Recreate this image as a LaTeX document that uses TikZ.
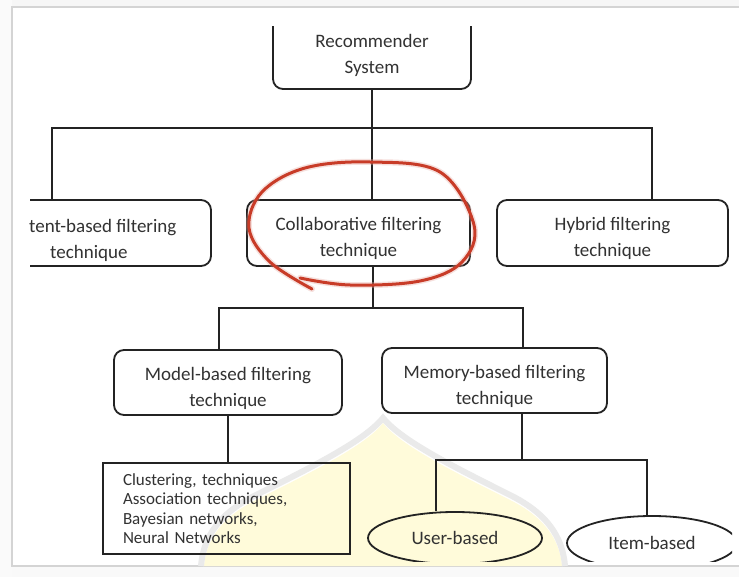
\documentclass[tikz,border=0pt]{standalone}
\usepackage{fontspec}
\setmainfont{Carlito}
\usetikzlibrary{shapes.geometric,calc}
\definecolor{ink}{RGB}{35,35,35}
\definecolor{txt}{RGB}{50,50,50}
\definecolor{redpen}{RGB}{200,60,40}
\definecolor{wmyellow}{RGB}{255,251,218}
\definecolor{wmgray}{RGB}{234,234,234}
\definecolor{framegray}{RGB}{212,212,212}
\newcommand\txtdrop{\rule{0pt}{25pt}}
\begin{document}
\begin{tikzpicture}[x=1pt,y=-1pt,
  rbox/.style={draw=ink,line width=1.8pt,rounded corners=10pt,align=center,font=\fontsize{19}{26}\selectfont,text=txt,inner sep=0pt},
  sbox/.style={draw=ink,line width=1.8pt,inner sep=0pt},
  oval/.style={ellipse,draw=ink,line width=1.8pt,inner sep=0pt,font=\fontsize{19}{26}\selectfont,text=txt},
  wire/.style={draw=ink,line width=1.8pt},
  lbl/.style={font=\fontsize{19}{26}\selectfont,text=txt,inner sep=0pt}
]
\useasboundingbox (0,0) rectangle (739,577);
\fill[white] (0,0) rectangle (739,577);
% outer band and frame
\fill[gray!7] (0,0) rectangle (739,7);
\fill[gray!5] (0,566) rectangle (739,577);
\fill[gray!4] (0,0) rectangle (12,577);
\draw[framegray,line width=2pt] (739,7) -- (12,7) -- (12,566) -- (739,566);
% watermark
\fill[wmyellow] (383,423) .. controls (400,445) and (450,470) .. (510,500) .. controls (550,520) and (560,545) .. (562,566) -- (204,566) .. controls (206,545) and (216,520) .. (256,500) .. controls (316,470) and (366,445) .. (383,423) -- cycle;
\draw[wmgray,line width=6pt] (565,566) .. controls (563,543) and (553,517) .. (512,496) .. controls (452,466) and (402,441) .. (383,418) .. controls (364,441) and (314,466) .. (254,496) .. controls (213,517) and (203,543) .. (201,566);
\begin{scope}
\clip (30,27) rectangle (732,561);
\node[rbox,minimum width=198pt,minimum height=120pt] (recbox) at (372,29) {};
\node[rbox,minimum width=241pt,minimum height=66pt] (content) at (90.5,233) {};
\node[rbox,minimum width=223pt,minimum height=66pt] (collab) at (358.5,233) {\txtdrop Collaborative filtering\\technique};
\node[rbox,minimum width=231pt,minimum height=66pt] (hybrid) at (612.5,233) {\txtdrop Hybrid filtering\\technique};
\node[rbox,minimum width=228pt,minimum height=65pt] (model) at (228,382.5) {\txtdrop Model-based filtering\\technique};
\node[rbox,minimum width=225pt,minimum height=65pt] (memory) at (494.5,380.5) {\txtdrop Memory-based filtering\\technique};
\node[sbox,minimum width=247pt,minimum height=91pt,text width=207pt,inner xsep=20pt,align=left,font=\fontsize{17}{19.5}\selectfont,text=txt] (clust) at (226.5,508.5) {Clustering, techniques\\Association techniques,\\Bayesian networks,\\Neural Networks};
\node[oval,minimum width=174pt,minimum height=52pt] (user) at (455,538) {User-based};
\node[oval,minimum width=170pt,minimum height=54pt] (item) at (652,543) {Item-based};
% connectors
\draw[wire] (recbox.south) -- (recbox.south |- collab.north);
\coordinate (j1) at (52,128);
\coordinate (j2) at (652,128);
\draw[wire] (j1 |- content.north) -- (j1) -- (j2) -- (j2 |- hybrid.north);
\coordinate (k0) at (373,308);
\coordinate (k1) at (219,308);
\coordinate (k2) at (523,308);
\draw[wire] (k0 |- collab.south) -- (k0);
\draw[wire] (k1 |- model.north) -- (k1) -- (k2) -- (k2 |- memory.north);
\draw[wire] (model.south) -- (model.south |- clust.north);
\coordinate (m0) at (522,460);
\coordinate (m1) at (436,460);
\coordinate (m2) at (647,460);
\draw[wire] (m0 |- memory.south) -- (m0);
\draw[wire] (m1 |- user.north) -- (m1) -- (m2) -- (m2 |- item.north);
\end{scope}
\node[lbl,align=center] (rec) at (372,55.5) {Recommender\\System};
\node[lbl,align=left,anchor=west] (contentText) at (29,240) {tent-based filtering\\\hspace*{21pt}technique};
% red hand-drawn loop
\draw[redpen!45,line width=6pt,line cap=round,opacity=0.35] plot[smooth,tension=0.6] coordinates {(312,289) (270,262) (249,228) (262,192) (305,168) (370,162) (440,172) (474,225) (462,262) (420,281) (350,285) (300,278)};
\draw[redpen,line width=3pt,line cap=round] plot[smooth,tension=0.6] coordinates {(312,289) (270,262) (249,228) (262,192) (305,168) (370,162) (440,172) (474,225) (462,262) (420,281) (350,285) (300,278)};
\end{tikzpicture}
\end{document}
